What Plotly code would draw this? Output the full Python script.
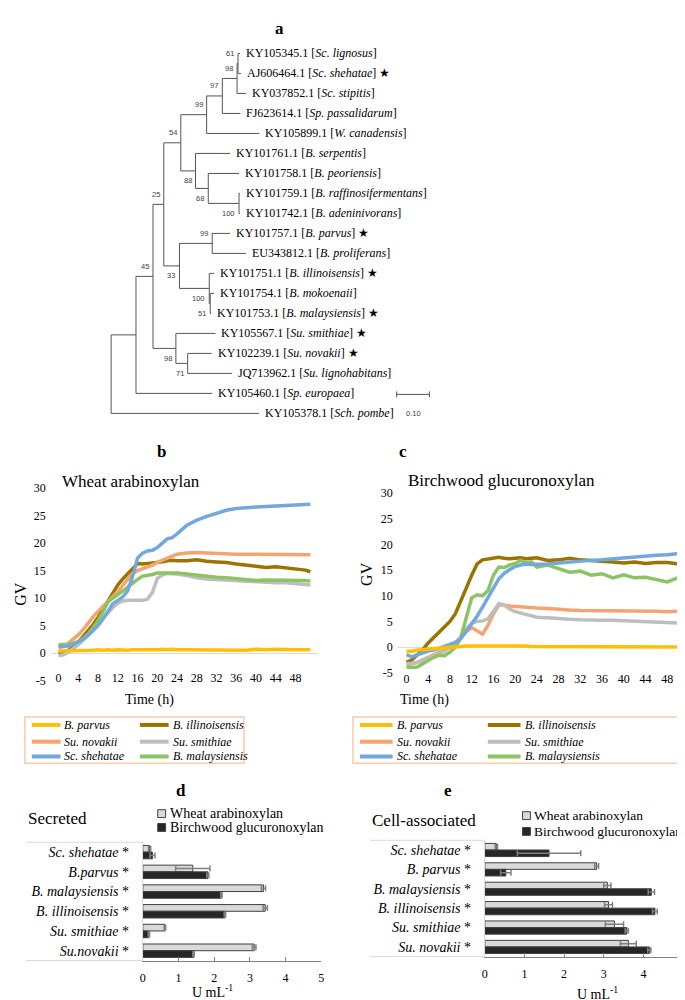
import plotly.graph_objects as go

W, H = 685, 1000
def X(px): return px / W
def Y(py): return 1 - py / H

SERIF = "Liberation Serif"
SANS = "Liberation Sans"

# ---------------- Panel a: phylogeny (Newick, bootstrap labels, branch lengths) ----------------
clade_sc = "(((KY105345.1:0.006,AJ606464.1:0.009)61:0.003,KY037852.1:0.027)98:0.045,FJ623614.1:0.055)97"
clade_top = "(" + clade_sc + ":0.048,KY105899.1:0.161)99"
clade_b1 = "(KY101761.1:0.106,(KY101758.1:0.094,(KY101759.1:0.003,KY101742.1:0.003)100:0.094)68:0.039)88"
clade_54 = "(" + clade_top + ":0.079," + clade_b1 + ":0.045)54"
clade_b2 = "((KY101757.1:0.055,EU343812.1:0.103)99:0.100,(KY101751.1:0.015,(KY101754.1:0.012,KY101753.1:0.003)51:0.003)100:0.091)33"
clade_25 = "(" + clade_54 + ":0.052," + clade_b2 + ":0.048)25"
clade_su = "(KY105567.1:0.121,(KY102239.1:0.073,JQ713962.1:0.136)71:0.036)98"
clade_45 = "(" + clade_25 + ":0.033," + clade_su + ":0.070)45"
tree_newick = "((" + clade_45 + ":0.052,KY105460.1:0.233):0.076,KY105378.1:0.452);"

accessions = ["KY105345.1", "AJ606464.1", "KY037852.1", "FJ623614.1", "KY105899.1",
              "KY101761.1", "KY101758.1", "KY101759.1", "KY101742.1", "KY101757.1",
              "EU343812.1", "KY101751.1", "KY101754.1", "KY101753.1", "KY105567.1",
              "KY102239.1", "JQ713962.1", "KY105460.1", "KY105378.1"]
species = ["Sc. lignosus", "Sc. shehatae", "Sc. stipitis", "Sp. passalidarum", "W. canadensis",
           "B. serpentis", "B. peoriensis", "B. raffinosifermentans", "B. adeninivorans", "B. parvus",
           "B. proliferans", "B. illinoisensis", "B. mokoenaii", "B. malaysiensis", "Su. smithiae",
           "Su. novakii", "Su. lignohabitans", "Sp. europaea", "Sch. pombe"]
starred = [0, 1, 0, 0, 0, 0, 0, 0, 0, 1, 0, 1, 0, 1, 1, 1, 0, 0, 0]
scale_bar_len = 0.10

# ---------------- Panels b, c: gas volume time courses ----------------
time_h = [0, 1, 2, 3, 4, 5, 6, 7, 8, 9, 10, 11, 12, 13, 14, 15, 16, 17, 18, 19, 20, 21, 22, 23, 24,
          26, 28, 30, 32, 34, 36, 38, 40, 42, 44, 46, 48, 50, 51]
x_ticks = [0, 4, 8, 12, 16, 20, 24, 28, 32, 36, 40, 44, 48]
gv_ticks = [-5, 0, 5, 10, 15, 20, 25, 30]
strains = ["B. parvus", "B. illinoisensis", "Su. novakii", "Su. smithiae", "Sc. shehatae", "B. malaysiensis"]
strain_colors = ["#FFC000", "#9A7300", "#F4A46F", "#BEBEBE", "#72A8DE", "#8CC464"]

b_parvus = [0.4, 0.4, 0.5, 0.5, 0.4, 0.5, 0.5, 0.5, 0.6, 0.5, 0.6, 0.5, 0.6, 0.5, 0.5, 0.6, 0.6, 0.5, 0.6, 0.6,
            0.6, 0.7, 0.6, 0.7, 0.6, 0.6, 0.6, 0.5, 0.6, 0.6, 0.5, 0.5, 0.7, 0.6, 0.7, 0.6, 0.6, 0.6, 0.6]
b_illinoisensis = [0.0, 0.1, 0.5, 1.1, 2.0, 3.0, 4.0, 5.2, 6.5, 7.9, 9.5, 11.0, 12.4, 13.5, 14.5, 15.5, 16.3, 16.2,
                   16.3, 16.3, 16.5, 16.6, 16.8, 16.9, 16.8, 16.8, 17.0, 16.7, 16.6, 16.5, 16.2, 16.0, 15.8, 15.6,
                   15.7, 15.5, 15.3, 15.1, 14.8]
b_novakii = [1.0, 1.2, 1.8, 2.5, 3.3, 4.3, 5.5, 6.6, 7.6, 8.5, 9.2, 10.2, 11.2, 12.3, 13.5, 14.5, 15.0, 15.3, 15.6,
             16.0, 16.5, 16.9, 17.3, 17.7, 18.0, 18.2, 18.3, 18.2, 18.1, 18.1, 18.0, 18.0, 18.0, 18.0, 18.0,
             18.0, 17.9, 17.9, 17.9]
b_smithiae = [-0.5, -0.3, 0.2, 0.8, 1.5, 2.4, 3.4, 4.4, 5.4, 6.4, 7.4, 8.3, 9.1, 9.5, 9.6, 9.6, 9.6, 9.6, 9.8,
              11.0, 13.6, 14.2, 14.5, 14.5, 14.4, 14.1, 13.7, 13.5, 13.4, 13.3, 13.1, 13.0, 12.9, 12.9, 12.8,
              12.8, 12.7, 12.6, 12.4]
b_shehatae = [1.2, 1.2, 1.3, 1.6, 2.0, 2.5, 3.2, 4.0, 5.0, 6.2, 7.6, 9.0, 9.6, 10.2, 11.3, 14.0, 17.3, 18.2, 18.6,
              18.7, 19.2, 20.0, 20.8, 21.0, 21.7, 23.3, 24.2, 24.9, 25.5, 26.0, 26.3, 26.5, 26.6, 26.7, 26.8,
              26.8, 26.9, 27.0, 27.1]
b_malaysiensis = [1.5, 1.5, 1.6, 1.8, 2.1, 2.7, 3.5, 4.6, 5.9, 7.5, 9.3, 10.0, 10.6, 11.3, 12.0, 12.8, 13.4, 14.0,
                  14.1, 14.3, 14.6, 14.6, 14.6, 14.7, 14.6, 14.4, 14.2, 13.9, 13.8, 13.7, 13.5, 13.3, 13.2, 13.3,
                  13.3, 13.2, 13.2, 13.2, 13.1]

c_parvus = [-0.8, -0.8, -0.6, -0.5, -0.4, -0.3, -0.2, -0.1, 0.0, 0.1, 0.2, 0.2, 0.2, 0.2, 0.2, 0.2, 0.2, 0.3, 0.2,
            0.2, 0.2, 0.2, 0.2, 0.1, 0.1, 0.1, 0.1, 0.1, 0.1, 0.1, 0.1, 0.1, 0.1, 0.1, 0.0, 0.0, 0.0, 0.0, -0.1]
c_illinoisensis = [-3.0, -2.5, -1.5, -0.5, 0.8, 1.8, 2.8, 4.0, 5.0, 6.5, 8.8, 11.5, 14.0, 16.2, 17.0, 17.2, 17.3,
                   17.5, 17.3, 17.2, 17.3, 17.4, 17.2, 17.3, 17.4, 16.9, 17.0, 17.3, 17.0, 16.9, 16.8, 16.6, 16.4,
                   16.6, 16.3, 16.5, 16.5, 16.2, 14.5]
c_novakii = [-3.5, -3.3, -3.0, -2.5, -2.0, -1.5, -1.0, -0.5, 0.0, 0.8, 2.0, 3.0, 3.8, 3.2, 2.5, 4.2, 6.5, 8.2, 8.2,
             8.0, 7.9, 7.8, 7.8, 7.7, 7.6, 7.5, 7.3, 7.2, 7.1, 7.1, 7.0, 7.0, 7.0, 7.0, 7.0, 7.0, 6.9, 7.0, 7.4]
c_smithiae = [-3.2, -3.2, -3.0, -2.5, -2.0, -1.6, -1.3, -0.8, 0.0, 0.6, 2.0, 3.5, 4.6, 5.0, 5.1, 5.5, 7.0, 8.5,
              8.2, 7.4, 6.9, 6.6, 6.3, 6.0, 5.8, 5.7, 5.5, 5.4, 5.3, 5.2, 5.2, 5.2, 5.1, 5.0, 5.0, 4.9, 4.8, 4.7, 4.3]
c_shehatae = [-1.5, -1.9, -1.5, -1.1, -0.8, -0.6, -0.3, 0.1, 0.5, 0.9, 1.6, 3.0, 4.5, 6.0, 7.8, 9.5, 11.5, 13.3,
              14.4, 15.1, 15.7, 16.0, 16.2, 16.1, 16.1, 16.2, 16.4, 16.6, 16.8, 16.9, 17.0, 17.2, 17.4, 17.6, 17.7,
              17.9, 18.0, 18.2, 18.8]
c_malaysiensis = [-3.9, -4.0, -3.9, -3.2, -2.5, -2.0, -1.6, -1.7, -1.0, 0.0, 1.8, 6.0, 9.6, 10.2, 10.0, 11.0, 14.0,
                  15.6, 15.5, 16.0, 16.3, 16.9, 16.4, 16.6, 15.6, 16.0, 15.3, 14.6, 14.8, 14.0, 14.3, 13.5, 14.1,
                  13.5, 13.6, 13.2, 12.7, 13.5, 13.1]

# ---------------- Panels d, e: xylanase activity ----------------
d_categories = ["Sc. shehatae", "B.parvus", "B. malaysiensis", "B. illinoisensis", "Su. smithiae", "Su.novakii"]
d_wheat = [0.19, 1.40, 3.38, 3.43, 0.62, 3.12]
d_wheat_err = [0.03, 0.48, 0.06, 0.06, 0.02, 0.05]
d_birch = [0.27, 1.82, 2.20, 2.30, 0.17, 1.42]
d_birch_err = [0.07, 0.03, 0.02, 0.02, 0.02, 0.02]

e_categories = ["Sc. shehatae", "B. parvus", "B. malaysiensis", "B. illinoisensis", "Su. smithiae", "Su. novakii"]
e_wheat = [0.29, 2.82, 3.09, 3.12, 3.27, 3.62]
e_wheat_err = [0.03, 0.05, 0.09, 0.10, 0.23, 0.20]
e_birch = [1.62, 0.53, 4.20, 4.29, 3.58, 4.15]
e_birch_err = [0.80, 0.13, 0.08, 0.06, 0.04, 0.04]
activity_ticks = [0, 1, 2, 3, 4, 5]
substrates = ["Wheat arabinoxylan", "Birchwood glucuronoxylan"]
sub_fill = ["#D9D9D9", "#262626"]

# =====================================================================
fig = go.Figure()
annotations = []
shapes = []

# ---- tree parsing / layout ----
def parse_newick(s):
    s = s.strip().rstrip(";")
    pos = [0]
    def node():
        children = []
        if s[pos[0]] == "(":
            pos[0] += 1
            while True:
                children.append(node())
                ch = s[pos[0]]
                pos[0] += 1
                if ch == ")":
                    break
        start = pos[0]
        while pos[0] < len(s) and s[pos[0]] not in ":,)":
            pos[0] += 1
        name = s[start:pos[0]]
        length = 0.0
        if pos[0] < len(s) and s[pos[0]] == ":":
            pos[0] += 1
            start = pos[0]
            while pos[0] < len(s) and s[pos[0]] not in ",)":
                pos[0] += 1
            length = float(s[start:pos[0]])
        return {"name": name, "len": length, "children": children}
    return node()

tree = parse_newick(tree_newick)
leaf_count = [0]
def place(n, x):
    n["x"] = x
    if not n["children"]:
        n["y"] = leaf_count[0]
        leaf_count[0] += 1
    else:
        for c in n["children"]:
            place(c, x + c["len"])
        n["y"] = (n["children"][0]["y"] + n["children"][-1]["y"]) / 2
place(tree, 0.0)

lx, ly = [], []
leaf_nodes = []
def draw(n, first):
    if not n["children"]:
        leaf_nodes.append(n)
        return
    c0, c1 = n["children"][0], n["children"][-1]
    lx.extend([n["x"], n["x"], None]); ly.extend([c0["y"], c1["y"], None])
    for i, c in enumerate(n["children"]):
        lx.extend([n["x"], c["x"], None]); ly.extend([c["y"], c["y"], None])
        draw(c, i == 0)
    if n["name"]:
        annotations.append(dict(x=n["x"], y=n["y"], xref="x", yref="y", text=n["name"], showarrow=False,
                                xanchor="right", yanchor="middle", xshift=-2, yshift=(10 if first else -10),
                                font=dict(family=SANS, size=7.5, color="#404040")))
draw(tree, True)

fig.add_trace(go.Scatter(x=lx, y=ly, mode="lines", line=dict(color="#555555", width=1),
                         xaxis="x", yaxis="y", hoverinfo="skip", showlegend=False))
for n in leaf_nodes:
    i = accessions.index(n["name"])
    txt = f"{accessions[i]} [<i>{species[i]}</i>]"
    if starred[i]:
        txt += " ★"
    annotations.append(dict(x=n["x"], y=n["y"], xref="x", yref="y", text=txt, showarrow=False,
                            xanchor="left", yanchor="middle", xshift=4,
                            font=dict(family=SERIF, size=12, color="black")))

# scale bar
sb_x0 = 0.873
sb_y = 17.05
fig.add_trace(go.Scatter(x=[sb_x0, sb_x0 + scale_bar_len, None, sb_x0, sb_x0, None,
                            sb_x0 + scale_bar_len, sb_x0 + scale_bar_len],
                         y=[sb_y, sb_y, None, sb_y - 0.15, sb_y + 0.15, None, sb_y - 0.15, sb_y + 0.15],
                         mode="lines", line=dict(color="#555555", width=1), xaxis="x", yaxis="y",
                         hoverinfo="skip", showlegend=False))
annotations.append(dict(x=sb_x0 + scale_bar_len / 2, y=18.0, xref="x", yref="y", text=f"{scale_bar_len:.2f}",
                        showarrow=False, font=dict(family=SANS, size=7.5, color="#404040")))

# ---- panels b and c ----
b_series = [b_parvus, b_illinoisensis, b_novakii, b_smithiae, b_shehatae, b_malaysiensis]
c_series = [c_parvus, c_illinoisensis, c_novakii, c_smithiae, c_shehatae, c_malaysiensis]
draw_order = [1, 2, 3, 5, 4, 0]
for k in draw_order:
    fig.add_trace(go.Scatter(x=time_h, y=b_series[k], mode="lines", name=strains[k],
                             line=dict(color=strain_colors[k], width=3.5), xaxis="x2", yaxis="y2",
                             showlegend=False))
for k in draw_order:
    fig.add_trace(go.Scatter(x=time_h, y=c_series[k], mode="lines", name=strains[k],
                             line=dict(color=strain_colors[k], width=3.5), xaxis="x3", yaxis="y3",
                             showlegend=False))

# ---- panels d and e ----
for cats, wv, we, bv, be, xa, ya in [
        (d_categories, d_wheat, d_wheat_err, d_birch, d_birch_err, "x4", "y4"),
        (e_categories, e_wheat, e_wheat_err, e_birch, e_birch_err, "x5", "y5")]:
    for vals, errs, fill in [(wv, we, sub_fill[0]), (bv, be, sub_fill[1])]:
        fig.add_trace(go.Bar(x=vals, y=cats, orientation="h", xaxis=xa, yaxis=ya, showlegend=False,
                             marker=dict(color=fill, line=dict(color="#404040", width=1)),
                             error_x=dict(type="data", array=errs, color="#7F7F7F", thickness=1.5, width=3)))

# ---------------- text and decorations ----------------
def ann(px, py, text, size, bold=False, xanchor="center", angle=0, family=SERIF, color="black"):
    annotations.append(dict(x=X(px), y=Y(py), xref="paper", yref="paper", text=(f"<b>{text}</b>" if bold else text),
                            showarrow=False, xanchor=xanchor, yanchor="middle", textangle=angle,
                            font=dict(family=family, size=size, color=color)))

ann(271, 14, "a", 17, bold=True)
ann(152, 443, "b", 17, bold=True)
ann(395, 443, "c", 17, bold=True)
ann(172, 787, "d", 17, bold=True)
ann(441, 787, "e", 17, bold=True)

ann(49, 473, "Wheat arabinoxylan", 17, xanchor="left")
ann(398, 472, "Birchwood glucuronoxylan", 17, xanchor="left")
ann(10, 587, "GV", 16, angle=-90)
ann(358, 567, "GV", 16, angle=-90)
ann(140, 695, "Time (h)", 14)
ann(417, 695, "Time (h)", 14)

# legends for b and c
def strain_legend(x0, x1, y0, y1, col_line, col_text, line_len, rows):
    shapes.append(dict(type="rect", xref="paper", yref="paper", x0=X(x0), x1=X(x1), y0=Y(y1), y1=Y(y0),
                       line=dict(color="#F8CBAD", width=1.5), fillcolor="rgba(0,0,0,0)"))
    for k, name in enumerate(strains):
        r, c = k // 2, k % 2
        py = rows[r]
        shapes.append(dict(type="line", xref="paper", yref="paper", x0=X(col_line[c]), x1=X(col_line[c] + line_len),
                           y0=Y(py), y1=Y(py), line=dict(color=strain_colors[k], width=4)))
        ann(col_text[c], py, f"<i>{name}</i>", 12, xanchor="left")

strain_legend(14, 235, 712, 759, [21, 130], [51, 161], 29, [720, 737, 752])
strain_legend(345, 683, 712, 759, [352, 481], [387, 517], 33, [720, 737, 752])

# d / e headers and legends
ann(15, 815, "Secreted", 17, xanchor="left")
ann(362, 817, "Cell-associated", 17, xanchor="left")
for sx, rows, fs in [(148, [810, 824], 14), (516, [812, 828], 13.5)]:
    for j in range(2):
        shapes.append(dict(type="rect", xref="paper", yref="paper", x0=X(sx), x1=X(sx + 8),
                           y0=Y(rows[j] + 4), y1=Y(rows[j] - 4), fillcolor=sub_fill[j],
                           line=dict(color="#404040", width=1)))
        ann(sx + 10, rows[j], substrates[j], fs, xanchor="left")

ann(203, 990, "U mL<sup>-1</sup>", 14)
ann(592, 992, "U mL<sup>-1</sup>", 14)

# light frame around category labels
for xa, xb, yt, yb in [(15, 133, 839, 959), (362, 478, 837, 955)]:
    for yy in (yt, yb):
        shapes.append(dict(type="line", xref="paper", yref="paper", x0=X(xa), x1=X(xb), y0=Y(yy), y1=Y(yy),
                           line=dict(color="#D9D9D9", width=1)))

# ---------------- layout ----------------
tickf = dict(family=SERIF, size=12, color="black")
line_ax_x = dict(range=[-1.6, 52.5], tickmode="array", tickvals=x_ticks, ticktext=[str(v) for v in x_ticks],
                 showgrid=False, zeroline=False, showline=False, ticks="", tickfont=tickf, anchor="free")
line_ax_y = dict(range=[-5, 30], tickmode="array", tickvals=gv_ticks, ticktext=[str(v) for v in gv_ticks],
                 showgrid=False, zeroline=True, zerolinecolor="#D9D9D9",
                 zerolinewidth=1, showline=False, ticks="", tickfont=tickf, ticklabelstandoff=4)

def cat_y(cats, dom, xa):
    return dict(domain=dom, type="category", categoryorder="array", categoryarray=cats, autorange="reversed",
                tickmode="array", tickvals=cats, ticktext=[f"<i>{c}</i> *" for c in cats],
                showline=True, linecolor="#D9D9D9", linewidth=1, ticks="", showgrid=False,
                tickfont=dict(family=SERIF, size=14, color="black"), ticklabelstandoff=10, anchor=xa)

def val_x(dom, ya):
    return dict(domain=dom, range=[0, 5], tickmode="array", tickvals=activity_ticks,
                ticktext=[str(v) for v in activity_ticks], showgrid=False, zeroline=False, showline=True,
                linecolor="#808080", linewidth=1, ticks="inside", ticklen=4, tickcolor="#808080",
                tickfont=tickf, ticklabelstandoff=6, anchor=ya)

fig.update_layout(
    width=W, height=H, margin=dict(l=0, r=0, t=0, b=0),
    paper_bgcolor="white", plot_bgcolor="white", showlegend=False,
    font=dict(family=SERIF, size=12, color="black"),
    barmode="group", bargap=0.32, bargroupgap=0.0,
    xaxis=dict(domain=[0, 1], range=[-101 / 330, 584 / 330], visible=False, anchor="y"),
    yaxis=dict(domain=[Y(430), 1], range=[(430 - 39) / 20.28, -39 / 20.28], visible=False, anchor="x"),
    xaxis2=dict(domain=[X(40), X(309.5)], position=Y(663), **line_ax_x),
    yaxis2=dict(domain=[Y(675), Y(480)], anchor="x2", **line_ax_y),
    xaxis3=dict(domain=[X(390.2), X(681.8)], position=Y(664), **{**line_ax_x, "range": [-1.6, 51.6]}),
    yaxis3=dict(domain=[Y(667), Y(485)], anchor="x3", **line_ax_y),
    xaxis4=val_x([X(133), X(313)], "y4"),
    yaxis4=cat_y(d_categories, [Y(959), Y(839)], "x4"),
    xaxis5=val_x([X(478), X(678)], "y5"),
    yaxis5=cat_y(e_categories, [Y(955), Y(837)], "x5"),
    annotations=annotations, shapes=shapes,
)

fig.write_html("out.html")
